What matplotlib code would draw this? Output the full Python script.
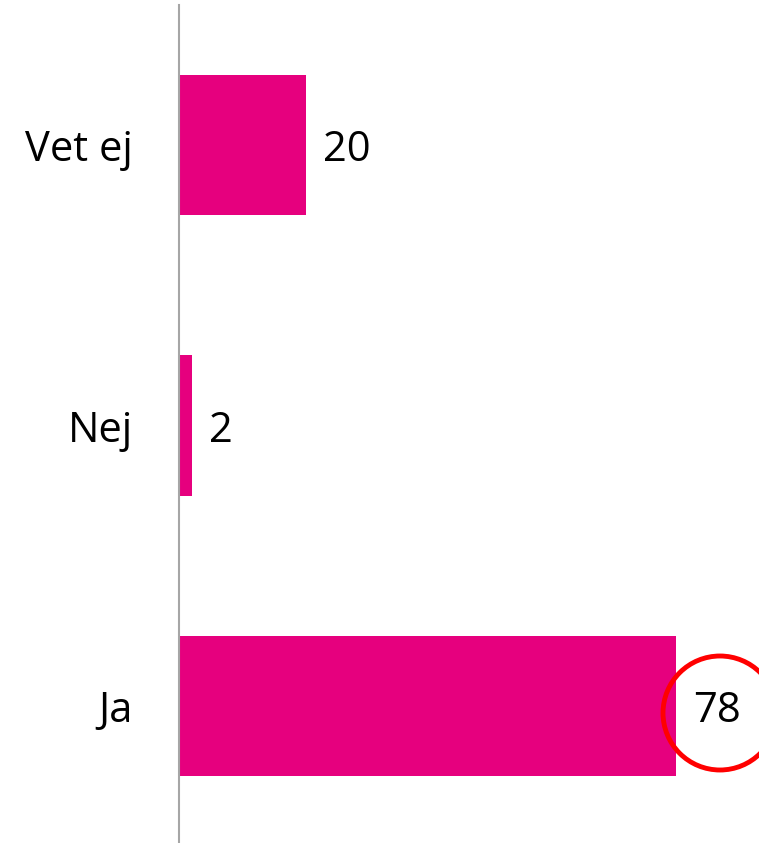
import matplotlib.pyplot as plt
from matplotlib.patches import Ellipse

# Data
categories = ['Ja', 'Nej', 'Vet ej']
values = [78, 2, 20]
highlight = 'Ja'

plt.rcParams['font.family'] = ['Open Sans', 'DejaVu Sans']

fig = plt.figure(figsize=(7.59, 8.43), dpi=100)
# axes placed so the spine sits at x=179 px and bars span the figure height
ax = fig.add_axes([179 / 759, -3 / 843, 580 / 759, 841 / 843])

y = range(len(categories))
bars = ax.barh(y, values, height=0.5, color='#E6007E')

ax.set_xlim(0, 580 / 6.37)
ax.set_ylim(-0.5, len(categories) - 0.5)
ax.set_yticks(list(y))
ax.set_yticklabels(categories, fontsize=30)
ax.tick_params(axis='y', length=0, pad=33)
for t in ax.get_yticklabels():
    t.set_verticalalignment('center_baseline')
ax.set_xticks([])

for s in ['top', 'right', 'bottom']:
    ax.spines[s].set_visible(False)
ax.spines['left'].set_color('#A6A6A6')
ax.spines['left'].set_linewidth(1.5)

for b, v in zip(bars, values):
    ax.annotate(str(v), (b.get_width(), b.get_y() + b.get_height() / 2),
                xytext=(17, 0), textcoords='offset pixels',
                va='center_baseline', ha='left', fontsize=30)

# red circle around the highlighted value (Ja)
fig.add_artist(Ellipse((720 / 759, (843 - 713) / 843), 114 / 759, 114 / 843,
                       transform=fig.transFigure, fill=False,
                       edgecolor='#FF0000', linewidth=3.5))

fig.savefig('out.png', dpi=100)
